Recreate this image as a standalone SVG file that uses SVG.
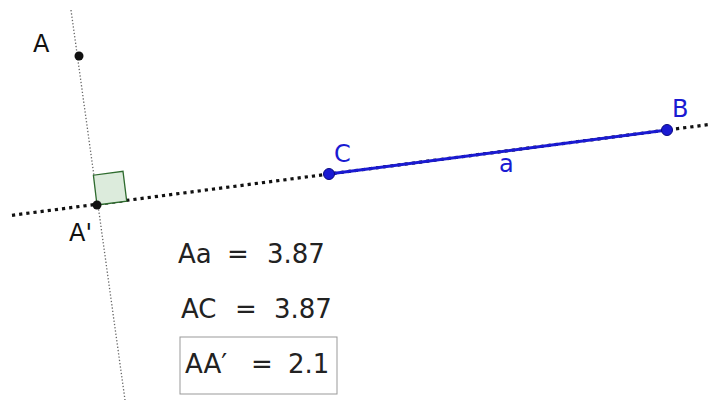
<svg xmlns="http://www.w3.org/2000/svg" width="710" height="402" viewBox="0 0 710 402">
<style>
.lbl{font-family:"DejaVu Sans","Liberation Sans",sans-serif;font-size:24px;fill:#111}
.blue{fill:#1a1ad2}
.eq{font-family:"DejaVu Sans","Liberation Sans",sans-serif;font-size:26px;fill:#222}
</style>
<rect width="710" height="402" fill="#fff"/>
<g id="connectors">
<line id="perp" x1="71" y1="10" x2="125" y2="400" stroke="#666" stroke-width="1.3" stroke-dasharray="1.3 2"/>
<line id="lineCB" x1="12" y1="215.3" x2="710" y2="124.4" stroke="#111" stroke-width="3.2" stroke-dasharray="3.2 4"/>
<line id="seg-a" x1="329" y1="174" x2="667" y2="130" stroke="#1a1ad2" stroke-width="3"/>
</g>
<g id="rightangle">
<polygon points="97,205 126.7,201.1 123,171.3 93.4,175.2" fill="#dcebdc" stroke="#2e6b2e" stroke-width="1.3"/>
</g>
<g id="A"><circle cx="79" cy="56" r="4.5" fill="#111"/><text class="lbl" x="33" y="52">A</text></g>
<g id="A1"><circle cx="97" cy="205" r="4.5" fill="#111"/><text class="lbl" x="69" y="241">A'</text></g>
<g id="C"><circle cx="329" cy="174" r="5.5" fill="#1a1ad2" stroke="#0a0a80" stroke-width="1"/><text class="lbl blue" x="334" y="162">C</text></g>
<g id="B"><circle cx="667" cy="130" r="5.5" fill="#1a1ad2" stroke="#0a0a80" stroke-width="1"/><text class="lbl blue" x="672" y="117">B</text></g>
<g id="label-a"><text class="lbl blue" x="499" y="172">a</text></g>
<g id="eq1"><text class="eq" y="263"><tspan x="178">Aa</tspan><tspan x="227">=</tspan><tspan x="267">3.87</tspan></text></g>
<g id="eq2"><text class="eq" y="318"><tspan x="181">AC</tspan><tspan x="235">=</tspan><tspan x="274">3.87</tspan></text></g>
<g id="eq3"><rect x="180" y="337" width="157" height="57" fill="none" stroke="#999" stroke-width="1"/><text class="eq" y="373"><tspan x="185">AA′</tspan><tspan x="251">=</tspan><tspan x="288">2.1</tspan></text></g>
</svg>
